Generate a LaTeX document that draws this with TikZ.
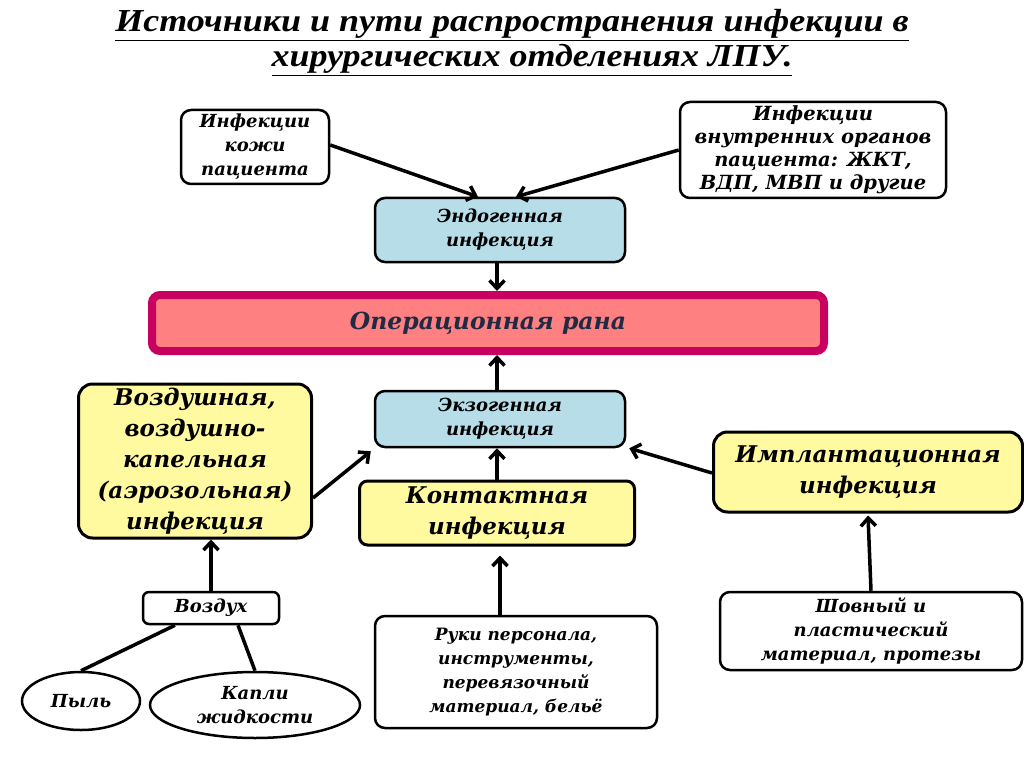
\documentclass[tikz,border=0pt]{standalone}
\usepackage{fontspec}
\setmainfont{DejaVu Serif}
\newfontfamily\titlefont{Liberation Serif}[FakeStretch=1.125]
\usetikzlibrary{arrows.meta,shapes.geometric}
\definecolor{endoblue}{RGB}{183,221,232}
\definecolor{pathyellow}{RGB}{255,250,160}
\definecolor{woundfill}{RGB}{255,128,128}
\definecolor{woundline}{RGB}{200,0,95}
\definecolor{woundtext}{RGB}{31,42,68}
\tikzset{
  src/.style={draw, line width=2.5pt, rounded corners=10pt, fill=white, align=center,
    font=\bfseries\itshape\fontsize{18}{24}\selectfont, inner sep=0pt},
  kind/.style={src, fill=endoblue, font=\bfseries\itshape\fontsize{18}{24}\selectfont},
  route/.style={src, fill=pathyellow, line width=3pt, rounded corners=14pt,
    font=\bfseries\itshape\fontsize{23}{31}\selectfont},
  drop/.style={draw, line width=2.5pt, ellipse, align=center,
    font=\bfseries\itshape\fontsize{18}{24}\selectfont, inner sep=0pt},
  flow/.style={line width=3.5pt, -{Straight Barb[length=8pt,width=15pt,line width=3.5pt]}},
  link/.style={line width=3.5pt},
  headline/.style={font=\titlefont\bfseries\itshape\fontsize{32}{36}\selectfont, inner sep=0pt}
}
\begin{document}
\begin{tikzpicture}[x=1pt,y=-1pt]
  \useasboundingbox (0,0) rectangle (1024,767);
  \node [headline] (t1) at (512,25) {\underline{Источники и пути распространения инфекции в}};
  \node [headline] (t2) at (532,60) {\underline{хирургических отделениях ЛПУ.}};

  \node [src, minimum width=148pt, minimum height=74pt] (skin) at (255,147) {Инфекции\\кожи\\пациента};
  \node [src, minimum width=266pt, minimum height=96pt, font=\bfseries\itshape\fontsize{19.5}{23}\selectfont] (organs) at (813,150) {Инфекции\\внутренних органов\\пациента: ЖКТ,\\ВДП, МВП и другие};
  \node [kind, minimum width=250pt, minimum height=64pt] (endo) at (500,230) {Эндогенная\\инфекция};

  \node [draw=woundline, line width=8pt, fill=woundfill, rounded corners=8pt,
    minimum width=672pt, minimum height=56pt, text=woundtext,
    font=\bfseries\itshape\fontsize{23.5}{26}\selectfont] (wound) at (488,323) {Операционная рана};

  \node [kind, minimum width=250pt, minimum height=56pt] (exo) at (500,419) {Экзогенная\\инфекция};
  \node [route, minimum width=233pt, minimum height=154pt] (air) at (195,461) {Воздушная,\\воздушно-\\капельная\\(аэрозольная)\\инфекция};
  \node [route, minimum width=275pt, minimum height=64pt, rounded corners=8pt] (contact) at (497,513) {Контактная\\инфекция};
  \node [route, minimum width=309pt, minimum height=80pt] (implant) at (868,472) {Имплантационная\\инфекция};

  \node [src, minimum width=136pt, minimum height=32pt, rounded corners=6pt] (airsrc) at (211,608) {Воздух};
  \node [drop, minimum width=118pt, minimum height=58pt] (dust) at (81,701) {Пыль};
  \node [drop, minimum width=210pt, minimum height=66pt] (drops) at (255,705) {Капли\\жидкости};
  \node [src, minimum width=282pt, minimum height=112pt, font=\bfseries\itshape\fontsize{17}{24}\selectfont] (hands) at (516,672) {Руки персонала,\\инструменты,\\перевязочный\\материал, бельё};
  \node [src, minimum width=302pt, minimum height=78pt] (suture) at (871,631) {Шовный и\\пластический\\материал, протезы};

  \draw [flow] ([yshift=2pt]skin.east) to ([xshift=-22pt]endo.north);
  \draw [flow] (organs.west) to ([xshift=16pt]endo.north);
  \draw [flow] ([xshift=-3pt]endo.south) to ([xshift=-3pt]endo.south |- wound.north);
  \draw [flow] ([xshift=-3pt]exo.north) to ([xshift=-3pt]exo.north |- wound.south);
  \draw [flow] (contact.north) to (contact.north |- exo.south);
  \draw [flow] ([yshift=-37pt]air.east) to ([xshift=-3pt,yshift=-3pt]exo.south west);
  \draw [flow] ([yshift=-1pt]implant.west) to ([xshift=3pt]exo.south east);
  \draw [flow] (airsrc.north) to (airsrc.north |- air.south);
  \draw [flow] ([xshift=-16pt]hands.north) to ([xshift=3pt,yshift=-9pt]contact.south);
  \draw [flow] (suture.north) to ([yshift=-2pt]implant.south);
  \draw [link] ([xshift=-36pt]airsrc.south) to (dust.north);
  \draw [link] ([xshift=27pt]airsrc.south) to (drops.north);
\end{tikzpicture}
\end{document}
